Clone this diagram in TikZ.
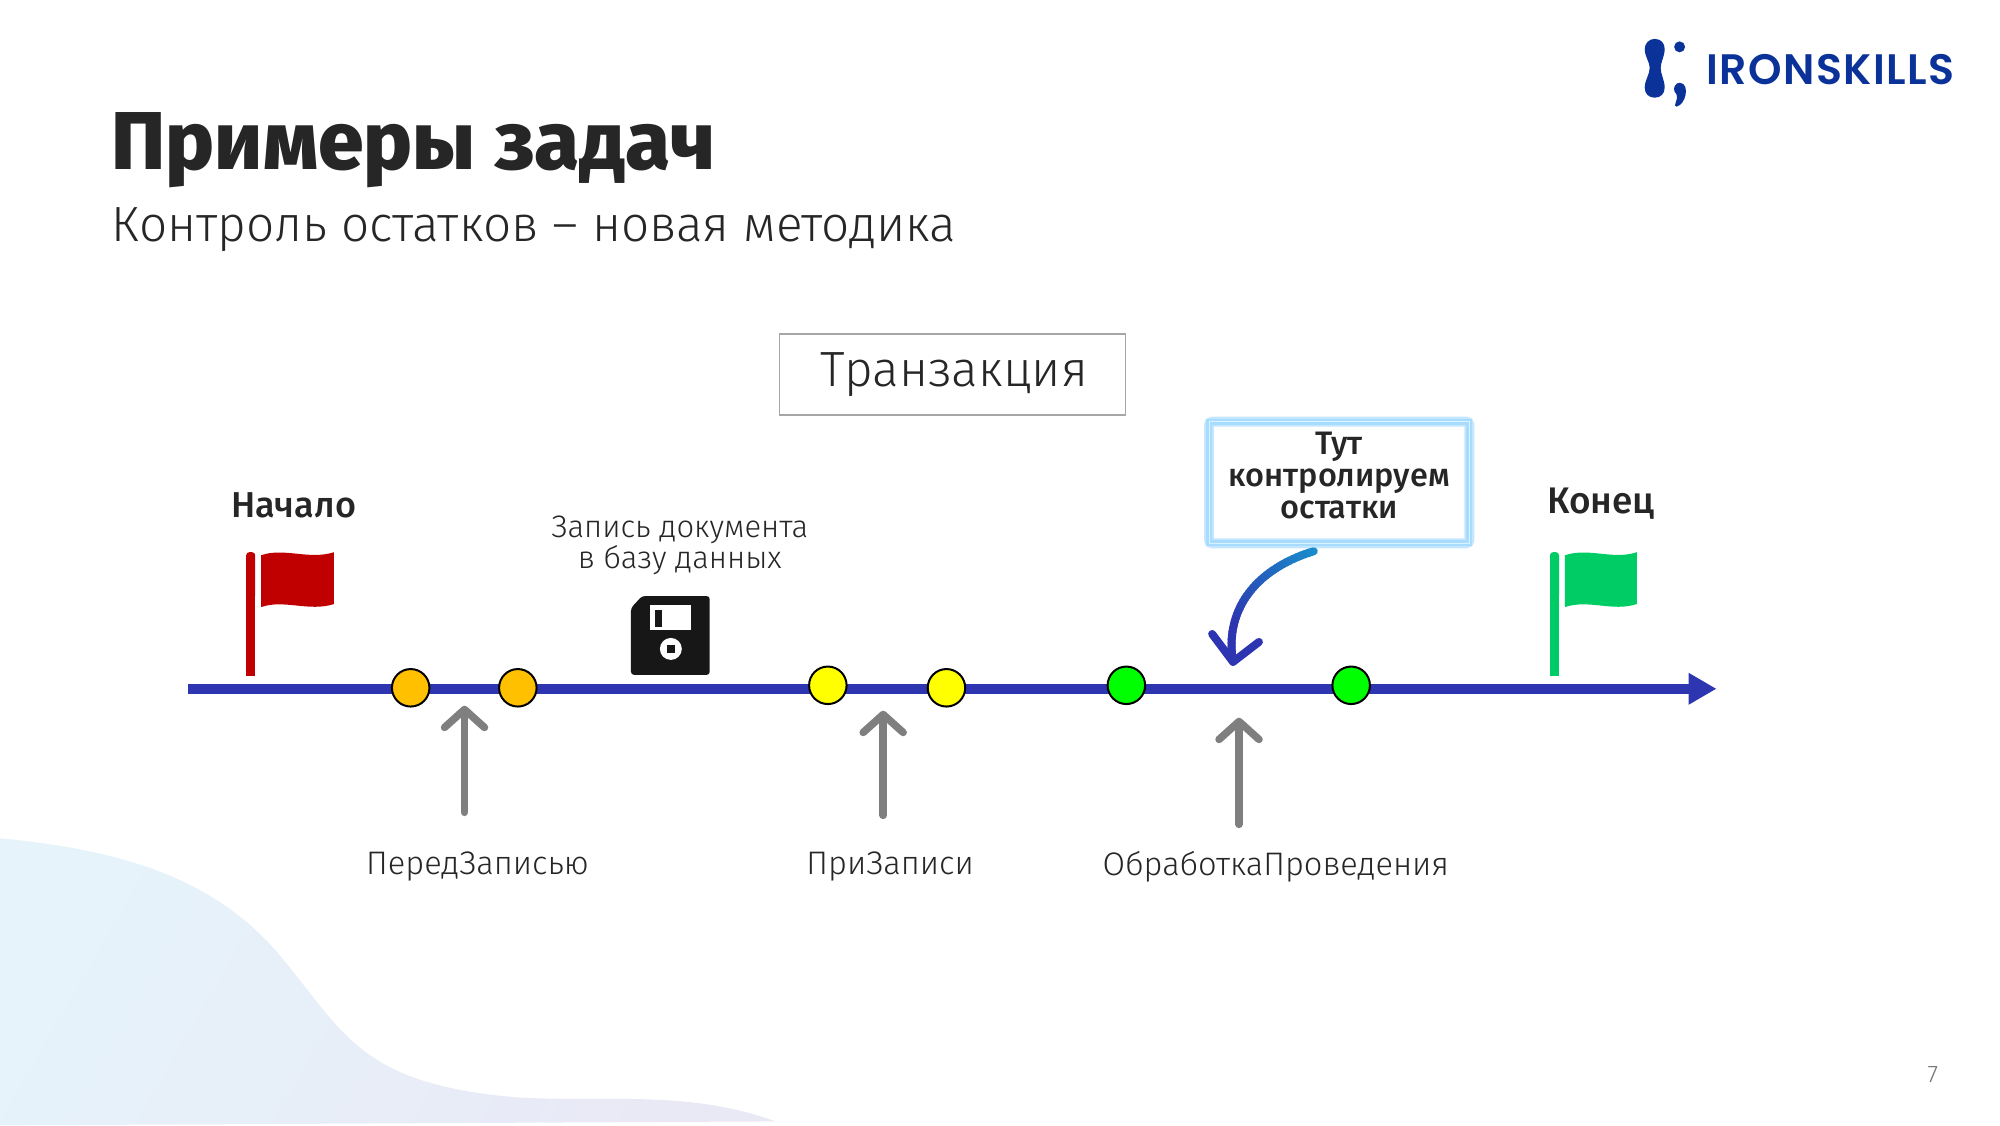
\documentclass[tikz,border=0pt]{standalone}
\usepackage{fontspec}
\setmainfont{Fira Sans Light}
\newfontfamily\regf{Fira Sans}
\newfontfamily\medf{Fira Sans Medium}
\newfontfamily\xbf{Fira Sans ExtraBold}
\newfontfamily\logof[LetterSpace=3.3]{Poppins SemiBold}
\usetikzlibrary{arrows.meta,shadings}
\definecolor{axisblue}{HTML}{2E35B0}
\definecolor{txt}{HTML}{262626}
\definecolor{arrgray}{HTML}{7F7F7F}
\definecolor{logoblue}{HTML}{0A3299}
\definecolor{orangec}{HTML}{FFC000}
\definecolor{yellowc}{HTML}{FFFF00}
\definecolor{greenc}{HTML}{00FF00}
\definecolor{flagred}{HTML}{C00000}
\definecolor{flaggreen}{HTML}{00CC66}
\definecolor{curvetop}{HTML}{1A8CCB}
\definecolor{blobA}{HTML}{E6F3FA}
\definecolor{blobB}{HTML}{E9E9F6}
\definecolor{glowA}{HTML}{C4E7FF}
\definecolor{glowB}{HTML}{A8DCFF}
\definecolor{glowC}{HTML}{DDF2FF}
\definecolor{floppy}{HTML}{171717}
\tikzset{
  txtnode/.style={text=txt,inner sep=0pt,align=center},
  milestone/.style={circle,draw=black,line width=2pt,minimum size=37.5pt,inner sep=0pt},
  grayarrow/.style={draw=arrgray,line width=7.5pt,line cap=round,-{Straight Barb[length=18pt,width=40pt,line cap=round,line join=round]}},
}
\begin{document}
\begin{tikzpicture}[x=1pt,y=-1pt]
\useasboundingbox (0,0) rectangle (2000,1125);
\begin{scope}[x=.9968pt,y=-.9968pt]
% background blob
\path[left color=blobA,right color=blobB,shading angle=60]
  (0,841) .. controls (130,853) and (220,885) .. (282,960)
  .. controls (345,1035) and (360,1088) .. (520,1101)
  .. controls (610,1106) and (690,1093) .. (778,1125)
  -- (0,1129) -- cycle;
% title
\node[txtnode,anchor=base west,font=\xbf\fontsize{82}{88}\selectfont] (title) at (112,170) {Примеры задач};
\node[txtnode,anchor=base west,font=\fontsize{49.5}{54}\selectfont] (subtitle) at (112,242) {Контроль остатков – новая методика};
% logo
\begin{scope}[shift={(5,0)}]
\fill[logoblue] (1655,39) .. controls (1662,39) and (1665,44) .. (1665,49)
  .. controls (1665,57) and (1661,62) .. (1661,68)
  .. controls (1661,75) and (1665,80) .. (1665,88)
  .. controls (1665,94) and (1661,98) .. (1655,98)
  .. controls (1649,98) and (1645,94) .. (1645,88)
  .. controls (1645,80) and (1650,75) .. (1650,68)
  .. controls (1650,62) and (1645,57) .. (1645,49)
  .. controls (1645,44) and (1649,39) .. (1655,39) -- cycle;
\fill[logoblue] (1680,47) circle (5.5);
\fill[logoblue] (1680,83) .. controls (1686,83) and (1687,90) .. (1686,95)
  .. controls (1685,101) and (1681,106) .. (1677,107)
  .. controls (1675,107) and (1675,105) .. (1676,103)
  .. controls (1678,98) and (1678,95) .. (1675,92)
  .. controls (1673,88) and (1676,83) .. (1680,83) -- cycle;
\end{scope}
\node[inner sep=0pt,anchor=base west,text=logoblue,font=\logof\fontsize{42.6}{44}\selectfont] (logotext) at (1712,84.5) {IRONSKILLS};
% transaction box
\node[draw=black!35,line width=1.5pt,minimum width=346pt,minimum height=81pt,inner sep=0pt] (tx) at (955.5,375.5) {};
\node[txtnode,font=\fontsize{49.5}{54}\selectfont] (txlabel) at (957,376) {Транзакция};
% axis
\coordinate (axstart) at (189,691);
\coordinate (axend) at (1722,691);
\draw[axisblue,line width=10pt,-{Triangle[length=28pt,width=30pt]}] (axstart) -- (axend);
% milestones
\node[milestone,fill=orangec] (o1) at (412,690) {};
\node[milestone,fill=orangec] (o2) at (519.5,690) {};
\node[milestone,fill=yellowc] (y1) at (830.5,687.5) {};
\node[milestone,fill=yellowc] (y2) at (949.5,690) {};
\node[milestone,fill=greenc] (g1) at (1130,687.5) {};
\node[milestone,fill=greenc] (g2) at (1355.5,687.5) {};
% flags
\fill[flagred,rounded corners=3pt] (247,554) rectangle (256,600);
\fill[flagred] (247,580) rectangle (256,678);
\fill[flagred] (262,557) .. controls (285,549) and (310,562) .. (335,554) -- (335,606)
  .. controls (310,614) and (285,601) .. (262,609) -- cycle;
\fill[flaggreen,rounded corners=3pt] (1555,554) rectangle (1564,600);
\fill[flaggreen] (1555,580) rectangle (1564,678);
\fill[flaggreen] (1570,557) .. controls (1594,549) and (1618,562) .. (1642,554) -- (1642,606)
  .. controls (1618,614) and (1594,601) .. (1570,609) -- cycle;
\node[txtnode,font=\medf\fontsize{36}{38}\selectfont] (start) at (294.5,507) {Начало};
\node[txtnode,font=\medf\fontsize{37}{40}\selectfont] (finish) at (1606,505) {Конец};
% floppy
\fill[floppy,rounded corners=3pt] (644,598) -- (712,598) -- (712,677) -- (633,677) -- (633,610) -- cycle;
\fill[white] (652,607) rectangle (693,632);
\fill[floppy] (657,612) rectangle (664,629);
\fill[white] (673,651) circle (11);
\fill[floppy] (669,647) rectangle (677,655);
\node[txtnode,font=\fontsize{31}{31}\selectfont] (save) at (682,547) {Запись документа\\в базу данных};
% gray arrows
\coordinate (a1s) at (466,815); \coordinate (a1e) at (466,708);
\coordinate (a2s) at (886,818); \coordinate (a2e) at (886,713);
\coordinate (a3s) at (1243,827); \coordinate (a3e) at (1243,720);
\draw[grayarrow] (a1s) -- (a1e);
\draw[grayarrow] (a2s) -- (a2e);
\draw[grayarrow] (a3s) -- (a3e);
\node[txtnode,font=\fontsize{32.6}{34}\selectfont] (l1) at (479,869.5) {ПередЗаписью};
\node[txtnode,font=\fontsize{32.6}{34}\selectfont] (l2) at (893,869.5) {ПриЗаписи};
\node[txtnode,font=\fontsize{32.6}{34}\selectfont] (l3) at (1280,869.5) {ОбработкаПроведения};
% callout
\path[draw=glowA,line width=10pt,rounded corners=3pt] (1213,423) rectangle (1474,545);
\path[draw=glowB,line width=6pt] (1213,423) rectangle (1474,545);
\path[draw=glowC,line width=1.2pt] (1213,423) rectangle (1474,545);
\node[txtnode,minimum width=261pt,minimum height=122pt,font=\medf\fontsize{32.5}{32}\selectfont] (callout) at (1343.5,477)
  {Тут\\контролируем\\остатки};
% curved arrow: gradient
\coordinate (cs) at (1318,553);
\coordinate (ce) at (1237,664);
\foreach \i in {0,...,39}{
  \pgfmathsetmacro\ta{\i/40}
  \pgfmathsetmacro\tb{min((\i+1.3)/40,1)}
  \pgfmathsetmacro\mixv{100-100*min(1,\i/30)}
  \colorlet{segc}{curvetop!\mixv!axisblue}
  \pgfmathsetmacro\xa{(1-\ta)^3*1318+3*(1-\ta)^2*\ta*1262+3*(1-\ta)*\ta^2*1228+\ta^3*1237}
  \pgfmathsetmacro\ya{(1-\ta)^3*553+3*(1-\ta)^2*\ta*570+3*(1-\ta)*\ta^2*610+\ta^3*664}
  \pgfmathsetmacro\xb{(1-\tb)^3*1318+3*(1-\tb)^2*\tb*1262+3*(1-\tb)*\tb^2*1228+\tb^3*1237}
  \pgfmathsetmacro\yb{(1-\tb)^3*553+3*(1-\tb)^2*\tb*570+3*(1-\tb)*\tb^2*610+\tb^3*664}
  \draw[segc,line width=8pt,line cap=round] (\xa,\ya) -- (\xb,\yb);
}
\coordinate (w1) at (1216,636); \coordinate (w2) at (1263,644);
\draw[axisblue,line width=8pt,line cap=round,line join=round] (w1) -- (ce) -- (w2);
% page number
\node[inner sep=0pt,text=black!55,font=\fontsize{24}{26}\selectfont] (pg) at (1939,1078) {7};
\end{scope}
\end{tikzpicture}
\end{document}
